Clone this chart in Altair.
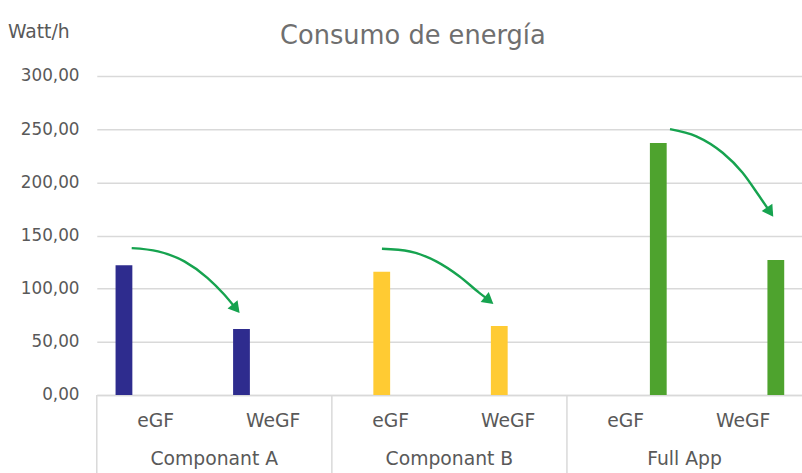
import altair as alt
import pandas as pd

categories = ["Componant A", "Componant B", "Full App"]
versions = ["eGF", "WeGF"]
egf_values = [122, 116, 237]
wegf_values = [62, 65, 127]
series_colors = ["#2E2C8E", "#FFCB33", "#4EA32E"]
y_ticks = [0, 50, 100, 150, 200, 250, 300]
chart_title = "Consumo de energía"
y_title = "Watt/h"

# annotation arrows, points (x in category-slot units, y in Watt/h)
arrow_x = [
    [0.297, 0.521, 0.745, 0.941, 1.082, 1.175],
    [2.426, 2.664, 2.888, 3.084, 3.252, 3.325],
    [4.877, 5.101, 5.325, 5.493, 5.633, 5.720],
]
arrow_y = [
    [138.1, 135.0, 125.7, 110.2, 94.7, 82.5],
    [137.5, 135.0, 125.7, 111.7, 96.3, 90.0],
    [250.1, 243.3, 227.8, 209.3, 187.6, 173.5],
]
arrow_angle = [141, 129, 146]

FONT = "DejaVu Sans"
TXT = "#595959"
GRID = "#d9d9d9"
ARROW = "#16A34F"
W, H = 714, 323
bar_shift = [-32, -9, 33]

keys = [f"{c}|{v}" for c in categories for v in versions]
rows = []
for i, c in enumerate(categories):
    for v, vals in zip(versions, [egf_values, wegf_values]):
        rows.append({"key": f"{c}|{v}", "category": c, "version": v, "value": vals[i]})
df = pd.DataFrame(rows)

xscale = alt.Scale(domain=keys, paddingInner=0, paddingOuter=0)
x_axis = alt.Axis(title=None, labelExpr="split(datum.label, '|')[1]", labelAngle=0,
                  labelBaseline="middle", labelPadding=26, ticks=False,
                  domainColor=GRID, domainWidth=1.5, labelFont=FONT,
                  labelFontSize=19, labelColor=TXT)
y_main = alt.Y(
    "value:Q", scale=alt.Scale(domain=[0, 300], nice=False),
    axis=alt.Axis(values=y_ticks, labelExpr="replace(format(datum.value, '.2f'), '.', ',')",
                  title=None),
)

bar_layers = []
for i, c in enumerate(categories):
    bar_layers.append(
        alt.Chart(df).transform_filter(alt.datum.category == c)
        .mark_bar(width=17, xOffset=bar_shift[i], color=series_colors[i])
        .encode(x=alt.X("key:N", sort=keys, scale=xscale, axis=x_axis), y=y_main)
    )

sep_df = pd.DataFrame({"key": [f"{c}|eGF" for c in categories]})
seps = alt.Chart(sep_df).mark_rule(color=GRID, strokeWidth=1.5).encode(
    x=alt.X("key:N", sort=keys, bandPosition=0),
    y=alt.value(H), y2=alt.value(H + 80),
)

cat_df = pd.DataFrame({"key": [f"{c}|WeGF" for c in categories], "category": categories})
cat_text = alt.Chart(cat_df).mark_text(font=FONT, fontSize=19, color=TXT, baseline="middle").encode(
    x=alt.X("key:N", sort=keys, bandPosition=0),
    y=alt.value(H + 65),
    text="category:N",
)

band_layer = alt.layer(*bar_layers, seps, cat_text)

arr_rows = []
head_rows = []
for a in range(len(arrow_x)):
    n = len(arrow_x[a])
    for j in range(n):
        arr_rows.append({"arrow": a, "order": j, "sx": arrow_x[a][j], "value": arrow_y[a][j]})
    head_rows.append({"arrow": a, "sx": arrow_x[a][-1], "value": arrow_y[a][-1], "angle": arrow_angle[a]})
arr_df = pd.DataFrame(arr_rows)
head_df = pd.DataFrame(head_rows)

sx = alt.X("sx:Q", scale=alt.Scale(domain=[0, 6], nice=False, zero=False), axis=None)
sy = alt.Y("value:Q")
arrow_lines = alt.Chart(arr_df).mark_line(color=ARROW, strokeWidth=2.4, interpolate="monotone").encode(
    x=sx, y=sy, detail="arrow:N", order="order:Q")
arrow_heads = alt.Chart(head_df).mark_point(shape="triangle", filled=True, color=ARROW,
                                            size=170, opacity=1).encode(
    x=sx, y=sy, angle=alt.Angle("angle:Q", scale=None))

title_text = alt.Chart(pd.DataFrame({"t": [chart_title]})).mark_text(
    font=FONT, fontSize=26, color="#6f6f6f", align="center", baseline="alphabetic"
).encode(x=alt.value(320), y=alt.value(-32), text="t:N")

ytitle_text = alt.Chart(pd.DataFrame({"t": [y_title]})).mark_text(
    font=FONT, fontSize=19, color=TXT, align="left", baseline="alphabetic"
).encode(x=alt.value(-90), y=alt.value(-38), text="t:N")

arrow_layer = alt.layer(arrow_lines, arrow_heads, title_text, ytitle_text)

chart = alt.layer(band_layer, arrow_layer).resolve_scale(x="independent").properties(
    width=W, height=H,
    autosize=alt.AutoSizeParams(type="none"),
    padding={"left": 98, "top": 74, "right": 0, "bottom": 76},
).configure_view(stroke=None).configure_axisY(
    grid=True, gridColor=GRID, gridWidth=1.5, domain=False, ticks=False,
    labelPadding=18, labelFont=FONT, labelFontSize=17, labelColor=TXT,
).configure_axisX(grid=False)

chart.save("out.html", embed_options={"renderer": "svg", "actions": False})
